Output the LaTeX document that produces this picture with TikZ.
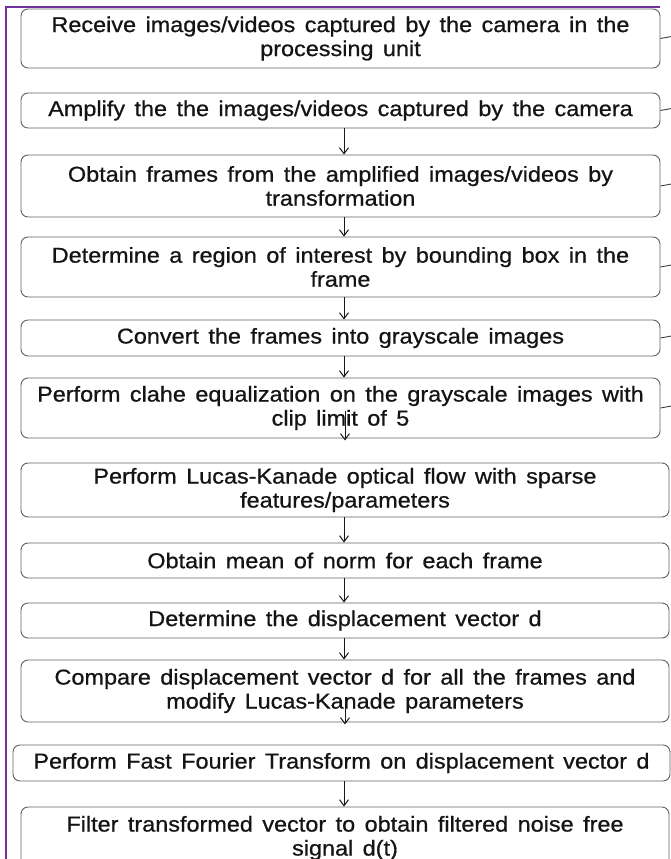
\documentclass[tikz,border=0pt]{standalone}
\usepackage{fontspec}
\setmainfont[FakeStretch=1.09,WordSpace=1.45,FakeBold=0.7]{Liberation Sans}
\usetikzlibrary{arrows.meta,calc}
\definecolor{frameclr}{HTML}{7030A0}
\begin{document}
\begin{tikzpicture}[x=1pt,y=-1pt,
  box/.style={draw=black!62, line width=0.9pt, rounded corners=7pt, inner sep=0pt,
    align=center, font=\fontsize{21.5}{24}\selectfont, text=black!92},
  upbox/.style={box, minimum width=639pt},
  lowbox/.style={box, minimum width=648pt},
  arr/.style={-{Straight Barb[length=6pt,width=9pt]}, line width=1pt, black!90},
  tick/.style={line width=0.9pt, black!75},
  frameline/.style={line width=2pt, frameclr}]
\useasboundingbox (0,0) rectangle (671,859);
\clip (0,0) rectangle (671,859);
\fill[white] (0,0) rectangle (671,859);
\draw[frameline] (5.5,860) -- (5.5,7) -- (660,7);
\coordinate (ax) at (344,0);

\node[upbox, minimum height=59pt] (b1) at (340.5,38.5) {Receive images/videos captured by the camera in the\\processing unit};
\node[upbox, minimum height=35pt] (b2) at (340.5,110.5) {Amplify the the images/videos captured by the camera};
\node[upbox, minimum height=62pt] (b3) at (340.5,186) {Obtain frames from the amplified images/videos by\\transformation};
\node[upbox, minimum height=60pt] (b4) at (340.5,267) {Determine a region of interest by bounding box in the\\frame};
\node[upbox, minimum height=36pt] (b5) at (340.5,338) {Convert the frames into grayscale images};
\node[upbox, minimum height=60pt] (b6) at (340.5,408) {Perform clahe equalization on the grayscale images with\\clip limit of 5};
\node[lowbox, minimum height=54pt] (b7) at (345,490) {Perform Lucas-Kanade optical flow with sparse\\features/parameters};
\node[lowbox, minimum height=35pt] (b8) at (345,560.5) {Obtain mean of norm for each frame};
\node[lowbox, minimum height=35pt] (b9) at (345,620.5) {Determine the displacement vector d};
\node[lowbox, minimum height=62pt] (b10) at (345,691) {Compare displacement vector d for all the frames and\\modify Lucas-Kanade parameters};
\node[box, minimum width=657pt, minimum height=36pt] (b11) at (341.5,763) {Perform Fast Fourier Transform on displacement vector d};
\node[lowbox, minimum height=62pt] (b12) at (345,838) {Filter transformed vector to obtain filtered noise free\\signal d(t)};

% right-hand ticks
\foreach \b in {b1,b2,b3,b4,b5,b6}{\draw[tick] (\b.east) -- ++(11,-2);}

% arrows
\draw[arr] (b2.south -| ax) -- (b3.north -| ax);
\draw[arr] (b3.south -| ax) -- (b4.north -| ax);
\draw[arr] (b4.south -| ax) -- (b5.north -| ax);
\draw[arr] (b5.south -| ax) -- (b6.north -| ax);
\draw[arr] ($(b6.south -| ax)+(1,-27)$) -- ($(b6.south -| ax)+(1,2)$);
\draw[arr] (b7.south -| ax) -- (b8.north -| ax);
\draw[arr] (b8.south -| ax) -- (b9.north -| ax);
\draw[arr] (b9.south -| ax) -- (b10.north -| ax);
\draw[arr] ($(b10.south -| ax)+(1,-25)$) -- ($(b10.south -| ax)+(1,2)$);
\draw[arr] (b11.south -| ax) -- (b12.north -| ax);
\end{tikzpicture}
\end{document}
